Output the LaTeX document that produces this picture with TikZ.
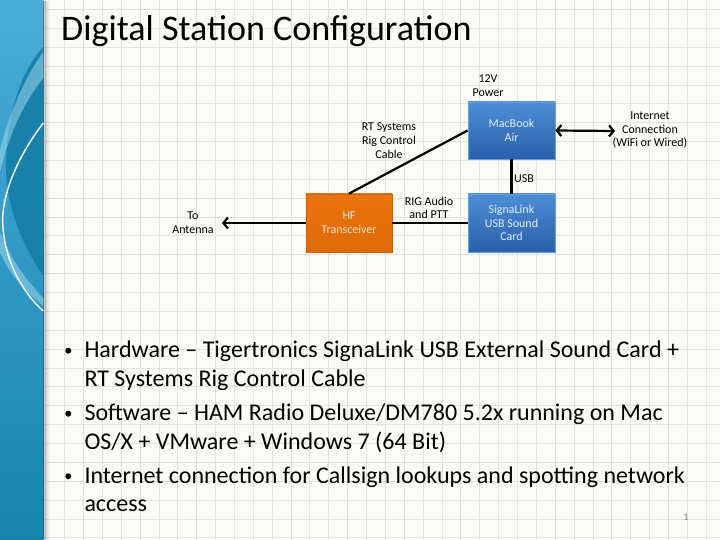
\documentclass[tikz,border=0pt]{standalone}
\usepackage{fontspec}
\setmainfont{Carlito}
\usetikzlibrary{arrows.meta,shadows,fadings}
\definecolor{bgc}{HTML}{FBFBF7}
\definecolor{gridc}{HTML}{E3E3DD}
\definecolor{bandtop}{HTML}{4AACD9}
\definecolor{bandbot}{HTML}{1784B0}
\definecolor{banddark}{HTML}{137EA8}
\definecolor{bandpale}{HTML}{9AD8EA}
\definecolor{bluetop}{HTML}{4D8ED6}
\definecolor{bluebot}{HTML}{2A60AA}
\definecolor{blueline}{HTML}{6C9FDA}
\definecolor{oratop}{HTML}{EA740E}
\definecolor{orabot}{HTML}{DE6A08}
\definecolor{oraline}{HTML}{C9600C}
\definecolor{bluetext}{HTML}{E2EEFA}
\definecolor{oratext}{HTML}{FDE6D3}
\tikzset{
  smalltext/.style={font=\fontsize{12}{13.7}\selectfont, align=center, inner sep=0pt},
  bluebox/.style={smalltext, text=bluetext, minimum width=87pt, minimum height=57pt,
    top color=bluetop, bottom color=bluebot, draw=blueline, line width=0.8pt,
    drop shadow={shadow xshift=1.2pt, shadow yshift=-1.2pt, opacity=0.3}},
  orabox/.style={smalltext, text=oratext, minimum width=86pt, minimum height=58pt,
    top color=oratop, bottom color=orabot, draw=oraline, line width=0.8pt,
    drop shadow={shadow xshift=1.2pt, shadow yshift=-1.2pt, opacity=0.3}},
  wire/.style={line width=2.2pt, black},
  tip/.style={arrows={-Straight Barb[length=4.5pt,width=11pt]}},
  bullettext/.style={font=\fontsize{24}{28}\selectfont, anchor=base west, inner sep=0pt},
  bulletdot/.style={circle, fill=black, inner sep=0pt, minimum size=6pt}
}
\begin{document}
\begin{tikzpicture}[x=1pt,y=-1pt]
\useasboundingbox (0,0) rectangle (720,540);
% background and grid
\fill[bgc] (0,0) rectangle (720,540);
\foreach \i in {0,...,38} \draw[gridc, line width=0.7pt] ({7.9+\i*18.87},0) -- ++(0,540);
\foreach \j in {0,...,28} \draw[gridc, line width=0.7pt] (0,{9.4+\j*18.87}) -- ++(720,0);
% left band
\shade[top color=bandtop, bottom color=bandbot] (0,0) rectangle (43.3,540);
\fill[black, opacity=0.22, path fading=east] (43.3,0) rectangle (50,540);
\fill[banddark, opacity=0.9] (43.3,47) .. controls (20,72) and (5,120) .. (6,170)
   .. controls (7,205) and (20,242) .. (43.3,276) -- cycle;
\fill[bandpale, opacity=0.55] (43.3,52) .. controls (28,72) and (10,110) .. (0,150)
   -- (0,172) .. controls (10,130) and (26,100) .. (43.3,78) -- cycle;
\fill[bandpale, opacity=0.55] (0,232) .. controls (12,262) and (28,282) .. (43.3,298)
   -- (43.3,306) .. controls (25,292) and (8,272) .. (0,252) -- cycle;
\draw[white, line width=1.4pt] (43.3,123) .. controls (15,160) and (0,200) .. (3,228)
   .. controls (6,265) and (25,295) .. (43.3,311);
% title
\node[font=\fontsize{36}{40}\selectfont, anchor=base west, inner sep=0pt] (title) at (61,41) {Digital Station Configuration};
% diagram boxes
\node[bluebox] (mac) at (511.5,130.5) {MacBook\\Air};
\node[bluebox, minimum height=58pt] (sig) at (511.5,223) {SignaLink\\USB Sound\\Card};
\node[orabox] (hf) at (349,223) {HF\\Transceiver};
\coordinate (ant) at (222,223);
\coordinate (net) at (615,131);
% connectors
\draw[wire] (hf.north) -- (mac.west);
\draw[wire] (mac.south) -- (sig.north);
\draw[wire] (hf.east) -- (sig.west);
\draw[wire, tip] (hf.west) -- (ant);
\draw[wire, arrows={Straight Barb[length=4.5pt,width=11pt]-Straight Barb[length=4.5pt,width=11pt]}] (mac.east) -- (net);
% labels
\node[smalltext] (pwr) at (488,85.5) {12V\\Power};
\node[smalltext] (rtlab) at (389,140.5) {RT Systems\\Rig Control\\Cable};
\node[smalltext] (riglab) at (429,208) {RIG Audio\\and PTT};
\node[smalltext, anchor=west] (usblab) at (514,179) {USB};
\node[smalltext] (antlab) at (193,223) {To\\Antenna};
\node[smalltext] (netlab) at (650,130) {Internet\\Connection\\(WiFi or Wired)};
% bullets
\node[bulletdot] (b1) at (68.3,350.7) {};
\node[bulletdot] (b2) at (68.3,413.7) {};
\node[bulletdot] (b3) at (68.3,476.3) {};
\node[bullettext] (l1) at (84.3,357.7) {Hardware – Tigertronics SignaLink USB External Sound Card +};
\node[bullettext] (l2) at (84.3,386) {RT Systems Rig Control Cable};
\node[bullettext] (l3) at (84.3,420.7) {Software – HAM Radio Deluxe/DM780 5.2x running on Mac};
\node[bullettext] (l4) at (84.3,449) {OS/X + VMware + Windows 7 (64 Bit)};
\node[bullettext] (l5) at (84.3,483.3) {Internet connection for Callsign lookups and spotting network};
\node[bullettext] (l6) at (84.3,511.7) {access};
% page number
\node[font=\fontsize{10}{11}\selectfont, text=gray, inner sep=0pt] (pg) at (686,517) {1};
\end{tikzpicture}
\end{document}
